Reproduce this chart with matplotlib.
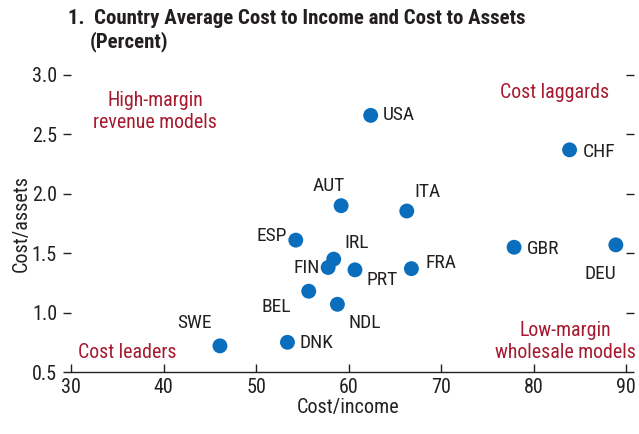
import matplotlib
matplotlib.use("Agg")
import matplotlib.pyplot as plt
from matplotlib import font_manager

names = {f.name for f in font_manager.fontManager.ttflist}
FONT = ["Roboto Condensed", "Liberation Sans Narrow", "Liberation Sans", "DejaVu Sans"]
plt.rcParams['font.family'] = [f for f in FONT if f in names] or ["DejaVu Sans"]

countries = ["USA", "CHF", "AUT", "ITA", "ESP", "IRL", "FIN", "PRT", "FRA",
             "GBR", "DEU", "BEL", "NDL", "SWE", "DNK"]
cost_income = [62.4, 83.9, 59.2, 66.3, 54.3, 58.4, 57.8, 60.7, 66.8,
               77.9, 88.9, 55.7, 58.8, 46.1, 53.4]
cost_assets = [2.66, 2.37, 1.90, 1.855, 1.61, 1.45, 1.38, 1.36, 1.37,
               1.55, 1.57, 1.18, 1.07, 0.72, 0.75]
x_ticks = [30, 40, 50, 60, 70, 80, 90]
y_ticks = [0.5, 1.0, 1.5, 2.0, 2.5, 3.0]

# label offsets in pixels (dx, dy, ha)
offsets = {
    "USA": (12, 0, "left"), "CHF": (13, -2, "left"), "AUT": (-12, 20, "center"),
    "ITA": (8, 19, "left"), "ESP": (-9, 4, "right"), "IRL": (11, 16, "left"),
    "FIN": (-8, -1, "right"), "PRT": (12, -10, "left"), "FRA": (14, 6, "left"),
    "GBR": (13, -2, "left"), "DEU": (-16, -29, "center"), "BEL": (-32, -16, "center"),
    "NDL": (11, -19, "left"), "SWE": (-25, 23, "center"), "DNK": (12, -1, "left"),
}

W, H = 639, 434
fig = plt.figure(figsize=(W / 100, H / 100), dpi=100)
ax = fig.add_axes([71 / W, (H - 372) / H, (626 - 71) / W, (372 - 75) / H])

blue = "#0a6ebd"
red = "#a6192e"
ink = "#231f20"

ax.scatter(cost_income, cost_assets, s=115, color=blue, edgecolor="none", zorder=3, clip_on=False)
for c, x, y in zip(countries, cost_income, cost_assets):
    dx, dy, ha = offsets[c]
    ax.annotate(c, (x, y), xytext=(dx, dy), textcoords="offset pixels",
                ha=ha, va="center", fontsize=14, color=ink)

ax.set_xlim(30, 90)
ax.set_ylim(0.5, 3.0)
ax.set_xticks(x_ticks)
ax.set_yticks(y_ticks)
ax.set_yticklabels([f"{v:.1f}" for v in y_ticks])
for s in ["top", "right", "left"]:
    ax.spines[s].set_visible(False)
ax.spines["bottom"].set_color(ink)
ax.spines["bottom"].set_linewidth(1.0)
ax.tick_params(axis="x", direction="in", length=6, width=1, colors=ink,
               labelsize=14.5, pad=4)
ax.tick_params(axis="y", direction="out", length=6, width=1, colors=ink,
               labelsize=14.5, pad=4, right=True)
ax.set_xlabel("Cost/income", fontsize=14.5, color=ink, labelpad=1)
ax.set_ylabel("Cost/assets", fontsize=14.5, color=ink, labelpad=1)


def px_text(px, py, s, **kw):
    fig.text(px / W, 1 - py / H, s, **kw)


px_text(155, 112, "High-margin\nrevenue models", fontsize=14.3, color=red,
        ha="center", va="center", linespacing=1.2)
px_text(555, 93, "Cost laggards", fontsize=14.3, color=red, ha="center", va="center")
px_text(127, 352, "Cost leaders", fontsize=14.3, color=red, ha="center", va="center")
px_text(565, 341, "Low-margin\nwholesale models", fontsize=14.3, color=red,
        ha="center", va="center", linespacing=1.2)

px_text(68, 18, "1.  Country Average Cost to Income and Cost to Assets",
        fontsize=15, fontweight="bold", color=ink, ha="left", va="center")
px_text(90, 42, "(Percent)", fontsize=15, fontweight="bold", color=ink,
        ha="left", va="center")

fig.savefig("out.png", dpi=100)
